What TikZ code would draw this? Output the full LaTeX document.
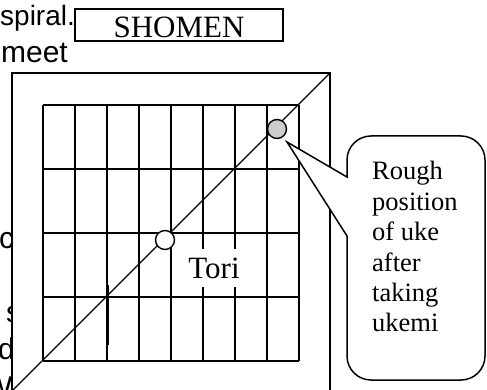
\documentclass[tikz,border=0pt]{standalone}
\usepackage{fontspec}
\setmainfont{Liberation Serif}
\newfontfamily\arialfont{Liberation Sans}
\tikzset{
  bgtext/.style={font=\arialfont\fontsize{30}{37}\selectfont, inner sep=0pt},
  gridline/.style={line width=1.6pt},
  framebox/.style={line width=1.6pt, fill=white},
  marker/.style={circle, draw, line width=1.4pt, minimum size=19pt, inner sep=0pt},
}
\begin{document}
\begin{tikzpicture}[x=1pt, y=-1pt]
\useasboundingbox (0,0) rectangle (487,390);
\clip (0,0) rectangle (487,390);
% background document text
\node[bgtext, font=\arialfont\fontsize{28}{37}\selectfont, anchor=base west] (t1) at (0,26) {spiral.};
\node[bgtext, anchor=base east] (t2) at (68,63) {meet};
\node[bgtext, anchor=base west] (t3) at (-1,248) {c};
\node[bgtext, anchor=base west] (t4) at (6,322) {s};
\node[bgtext, anchor=base west] (t5) at (-2,359) {d};
\node[bgtext, anchor=base west] (t6) at (-16,397) {W};
% SHOMEN label
\draw[line width=1.5pt, fill=white] (75,9) rectangle (283,41);
\node[font=\fontsize{31}{36}\selectfont, inner sep=0pt, anchor=base] (shomen) at (179,38) {SHOMEN};
% outer frame
\draw[framebox] (12,73) rectangle (330,391);
% grid
\foreach \i in {0,...,8} \draw[gridline] (43+32*\i,105) -- (43+32*\i,361);
\foreach \j in {0,...,4} \draw[gridline] (43,105+64*\j) -- (299,105+64*\j);
% diagonal
\coordinate (dA) at (12,391);
\coordinate (dB) at (330,73);
\draw[line width=1.4pt] (dA) -- (dB);
% tick
\coordinate (k1) at (107,285);
\coordinate (k2) at (107,345);
\draw[line width=3pt] (k1) -- (k2);
% markers
\node[marker, fill=white] (tori) at (165,240) {};
\node[marker, fill=gray!40] (uke) at (277,129) {};
\node[fill=white, font=\fontsize{31}{36}\selectfont, text height=20pt, text depth=0pt, inner xsep=6pt, inner ysep=9pt, anchor=base] (torilabel) at (214,278) {Tori};
% callout
\draw[line width=1.5pt, fill=white, line join=miter]
  (347,236) -- (347,356) .. controls (347,369.25) and (357.75,380) .. (371,380)
  -- (461,380) .. controls (474.25,380) and (485,369.25) .. (485,356)
  -- (485,160) .. controls (485,146.75) and (474.25,136) .. (461,136)
  -- (371,136) .. controls (357.75,136) and (347,146.75) .. (347,160)
  -- (347,177) -- (287,142) -- cycle;
\node[inner sep=0pt, anchor=base west, font=\fontsize{26.5}{30.4}\selectfont] (note) at (372,180)
  {\begin{tabular}[t]{@{}l@{}}Rough\\position\\of uke\\after\\taking\\ukemi\end{tabular}};
\end{tikzpicture}
\end{document}
